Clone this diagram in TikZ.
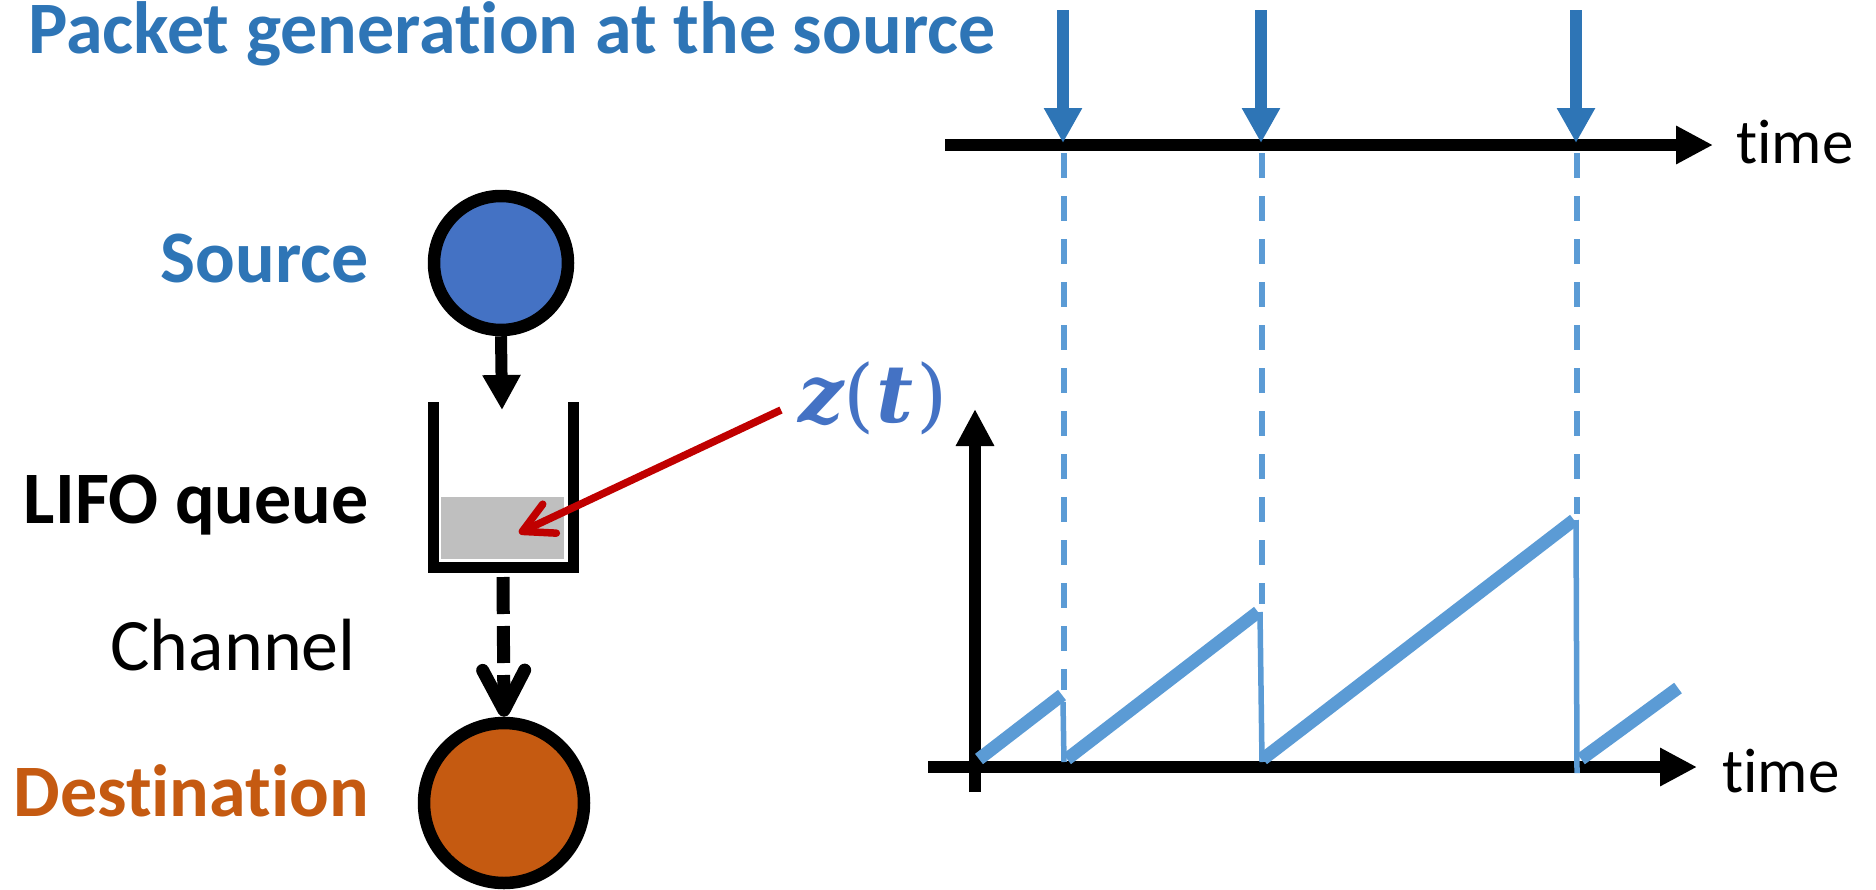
\documentclass[tikz,border=0pt]{standalone}
\usepackage{fontspec}
\setmainfont{Carlito}[Ligatures={NoCommon,NoContextual}]
\newfontfamily\zfont{DejaVu Serif}
\usetikzlibrary{arrows.meta}
\definecolor{titleblue}{HTML}{2E75B6}
\definecolor{ltblue}{HTML}{5B9BD5}
\definecolor{srcblue}{HTML}{4472C4}
\definecolor{dstorange}{HTML}{C55A11}
\definecolor{arrred}{HTML}{C00000}
\definecolor{qgrey}{HTML}{BFBFBF}
\newcommand\bigtxt{\fontsize{74}{80}\selectfont}
\newcommand\timetxt{\fontsize{63}{70}\selectfont}
\tikzset{
  lbl/.style={inner sep=0pt, font=\bigtxt},
  axisline/.style={line width=12.5pt, black, -{Triangle[length=37pt,width=36pt]}},
  genarrow/.style={line width=12pt, titleblue, -{Triangle[length=35pt,width=36pt]}},
  guide/.style={line width=6pt, ltblue, dash pattern=on 25pt off 18pt},
  ramp/.style={line width=13pt, ltblue},
  drop/.style={line width=5.5pt, ltblue},
  ringnode/.style={circle, draw=black, line width=12.5pt, inner sep=0pt},
}
\begin{document}
\begin{tikzpicture}[x=1pt,y=-1pt]
\useasboundingbox (0,0) rectangle (1876,889);

% title
\node[lbl, anchor=base west, text=titleblue, font=\bigtxt\bfseries] (title) at (28,53) {Packet generation at the source};

% left labels
\node[lbl, anchor=base east, text=titleblue, font=\bigtxt\bfseries] (srclbl) at (369,282) {Source};
\node[lbl, anchor=base east, font=\bigtxt\bfseries] (lifolbl) at (369,523) {LIFO queue};
\node[lbl, anchor=base east] (chlbl) at (356,670) {Channel};
\node[lbl, anchor=base east, text=dstorange, font=\bigtxt\bfseries] (dstlbl) at (369,816) {Destination};

% source and destination
\node[ringnode, fill=srcblue, minimum size=134pt] (src) at (501,263) {};
\node[ringnode, fill=dstorange, minimum size=160pt] (dst) at (504,803) {};

% queue
\fill[qgrey] (441,497) rectangle (564,559);
\draw[line width=11pt, line join=miter] (433,402) -- (433,567) -- (573,567) -- (573,402);
\coordinate (qin) at (502,410);
\coordinate (qout) at (503,577);
\draw[line width=12pt, -{Triangle[length=35pt,width=36pt]}] (src.south) -- (qin);
\draw[line width=13pt, dash pattern=on 37pt off 12pt, -{Straight Barb[length=40pt,width=42pt,round]}] (qout) -- (dst.north);

% z(t)
\node[inner sep=0pt, anchor=base west, text=srcblue, font=\zfont\fontsize{80}{86}\selectfont] (zt) at (798,422) {{\bfseries\itshape z}(\kern2pt{\bfseries\itshape t}\kern3pt)};
\coordinate (zs) at (781,410);
\coordinate (ze) at (519,533);
\draw[arrred, line width=7.5pt, -{Straight Barb[length=30pt,width=32pt,round]}] (zs) -- (ze);

% top time axis
\coordinate (ta0) at (945,145);
\coordinate (ta1) at (1713,145);
\draw[axisline] (ta0) -- (ta1);
\node[inner sep=0pt, anchor=base west, font=\timetxt] (ttime) at (1736,163) {time};

% generation arrows
\foreach \x/\n in {1063/a,1261/b,1576/c}{
  \coordinate (g\n0) at (\x,10);
  \coordinate (g\n1) at (\x,143);
  \draw[genarrow] (g\n0) -- (g\n1);
}

% bottom axes
\coordinate (ba0) at (928,767);
\coordinate (ba1) at (1697,767);
\coordinate (va0) at (975,792);
\coordinate (va1) at (975,409);
\draw[axisline] (va0) -- (va1);
\draw[axisline] (ba0) -- (ba1);
\node[inner sep=0pt, anchor=base west, font=\timetxt] (btime) at (1722,792) {time};

% dashed guides
\draw[guide] (1064,153) -- (1064,690);
\draw[guide] (1262,153) -- (1262,604);
\draw[guide] (1577,153) -- (1577,514);

% sawtooth
\draw[ramp] (979,759) -- (1062,695);
\draw[ramp] (1067,759) -- (1258,612);
\draw[ramp] (1263,759) -- (1574,520);
\draw[ramp] (1581,759) -- (1678,688);
\draw[drop] (1063,702) -- (1064,762);
\draw[drop] (1260,612) -- (1262,762);
\draw[drop] (1576,520) -- (1577,773);
\end{tikzpicture}
\end{document}
